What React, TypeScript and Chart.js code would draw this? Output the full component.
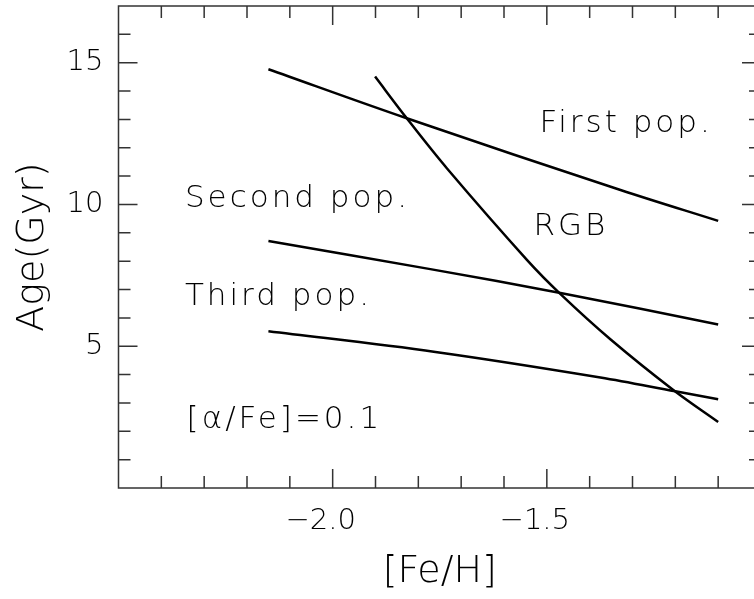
import React, { useEffect, useRef } from 'react';
import { Chart, registerables } from 'chart.js';

Chart.register(...registerables);

// ---- Data ----
const firstPopFeH = [-2.15, -1.827, -1.328, -1.1];
const firstPopAge = [14.77, 13.04, 10.51, 9.42];

const secondPopFeH = [-2.15, -1.772, -1.468, -1.1];
const secondPopAge = [8.71, 7.72, 6.88, 5.77];

const thirdPopFeH = [-2.15, -1.76, -1.375, -1.2, -1.1];
const thirdPopAge = [5.53, 4.8, 3.9, 3.41, 3.13];

const rgbFeH = [-1.901, -1.827, -1.733, -1.546, -1.468, -1.351, -1.204, -1.1];
const rgbAge = [14.51, 13.04, 11.27, 8.04, 6.84, 5.24, 3.45, 2.33];

const annotationTexts = ['First pop.', 'Second pop.', 'RGB', 'Third pop.', '[α/Fe]=0.1'];
const annotationFeH = [-1.517, -2.345, -1.531, -2.345, -2.341];
const annotationAge = [12.56, 9.9, 8.92, 6.45, 2.1];

const xLabelValues = [-2.0, -1.5];
const xLabelTexts = ['−2.0', '−1.5'];
const yLabelValues = [5, 10, 15];
const yLabelTexts = ['5', '10', '15'];

const xTitle = '[Fe/H]';
const yTitle = 'Age(Gyr)';

const FONT = "'DejaVu Sans', 'Liberation Sans', sans-serif";
const WEIGHT = 200;

const toPoints = (xs: number[], ys: number[]) => xs.map((x, i) => ({ x, y: ys[i] }));

const framePlugin = {
  id: 'pgplotFrame',
  afterDraw(chart: any) {
    const { ctx, chartArea: a, scales } = chart;
    const xs = scales.x;
    const ys = scales.y;
    ctx.save();
    ctx.strokeStyle = '#333';
    ctx.lineWidth = 1.5;
    ctx.strokeRect(a.left, a.top, a.right - a.left, a.bottom - a.top);
    ctx.beginPath();
    xs.ticks.forEach((t: any) => {
      const v = t.value;
      if (v <= xs.min + 1e-9 || v >= xs.max - 1e-9) return;
      const major = Math.abs(v * 2 - Math.round(v * 2)) < 1e-6;
      const len = major ? 19 : 12;
      const px = xs.getPixelForValue(v);
      ctx.moveTo(px, a.bottom);
      ctx.lineTo(px, a.bottom - len);
      ctx.moveTo(px, a.top);
      ctx.lineTo(px, a.top + len);
    });
    ys.ticks.forEach((t: any) => {
      const v = t.value;
      if (v <= ys.min + 1e-9 || v >= ys.max - 1e-9) return;
      const major = Math.abs(v / 5 - Math.round(v / 5)) < 1e-6;
      const len = major ? 19 : 12;
      const py = ys.getPixelForValue(v);
      ctx.moveTo(a.left, py);
      ctx.lineTo(a.left + len, py);
      ctx.moveTo(a.right, py);
      ctx.lineTo(a.right - len, py);
    });
    ctx.stroke();

    ctx.fillStyle = '#000';
    ctx.font = `${WEIGHT} 31px ${FONT}`;
    (ctx as any).letterSpacing = '3px';
    ctx.textAlign = 'left';
    ctx.textBaseline = 'alphabetic';
    annotationTexts.forEach((s, i) => {
      ctx.fillText(s, xs.getPixelForValue(annotationFeH[i]), ys.getPixelForValue(annotationAge[i]));
    });
    ctx.restore();
  },
};

export default function App() {
  const canvasRef = useRef<HTMLCanvasElement | null>(null);

  useEffect(() => {
    if (!canvasRef.current) return;
    const lineStyle = {
      borderColor: '#000',
      borderWidth: 2.5,
      pointRadius: 0,
      fill: false,
      tension: 0.35,
    };
    const chart = new Chart(canvasRef.current, {
      type: 'line',
      data: {
        datasets: [
          { label: 'First pop.', data: toPoints(firstPopFeH, firstPopAge), ...lineStyle },
          { label: 'Second pop.', data: toPoints(secondPopFeH, secondPopAge), ...lineStyle },
          { label: 'Third pop.', data: toPoints(thirdPopFeH, thirdPopAge), ...lineStyle },
          { label: 'RGB', data: toPoints(rgbFeH, rgbAge), ...lineStyle },
        ],
      },
      options: {
        animation: false,
        responsive: false,
        devicePixelRatio: 1,
        layout: { padding: { left: 0, top: 6, right: 19, bottom: 0 } },
        plugins: { legend: { display: false }, tooltip: { enabled: false } },
        scales: {
          x: {
            type: 'linear',
            min: -2.5,
            max: -1.0,
            grid: { display: false, drawTicks: false },
            border: { display: false },
            afterFit: (scale: any) => {
              scale.height = 111;
              scale.paddingLeft = 0;
              scale.paddingRight = 0;
            },
            ticks: {
              stepSize: 0.1,
              autoSkip: false,
              maxRotation: 0,
              padding: 16,
              labelOffset: -12,
              color: '#000',
              font: { family: FONT, size: 29, weight: WEIGHT as any },
              callback: (value: any) => {
                const v = Number(value);
                const idx = xLabelValues.findIndex((lv) => Math.abs(lv - v) < 1e-6);
                return idx >= 0 ? xLabelTexts[idx] : '';
              },
            },
            title: {
              display: true,
              text: xTitle,
              color: '#000',
              font: { family: FONT, size: 38, weight: WEIGHT as any },
              padding: { top: 0, bottom: 4 },
            },
          },
          y: {
            type: 'linear',
            min: 0,
            max: 17,
            grid: { display: false, drawTicks: false },
            border: { display: false },
            afterFit: (scale: any) => {
              scale.width = 118.5;
              scale.paddingTop = 0;
              scale.paddingBottom = 0;
            },
            ticks: {
              stepSize: 1,
              autoSkip: false,
              padding: 15,
              color: '#000',
              font: { family: FONT, size: 29, weight: WEIGHT as any },
              callback: (value: any) => {
                const v = Number(value);
                const idx = yLabelValues.findIndex((lv) => Math.abs(lv - v) < 1e-6);
                return idx >= 0 ? yLabelTexts[idx] : '';
              },
            },
            title: {
              display: true,
              text: yTitle,
              color: '#000',
              font: { family: FONT, size: 38, weight: WEIGHT as any },
              padding: { top: 10, bottom: 0 },
            },
          },
        },
      },
      plugins: [framePlugin],
    });
    return () => chart.destroy();
  }, []);

  return (
    <div
      style={{
        position: 'fixed',
        left: 0,
        top: 0,
        width: 754,
        height: 599,
        overflow: 'hidden',
        background: '#fff',
      }}
    >
      <canvas ref={canvasRef} width={780} height={599} style={{ display: 'block' }} />
    </div>
  );
}
